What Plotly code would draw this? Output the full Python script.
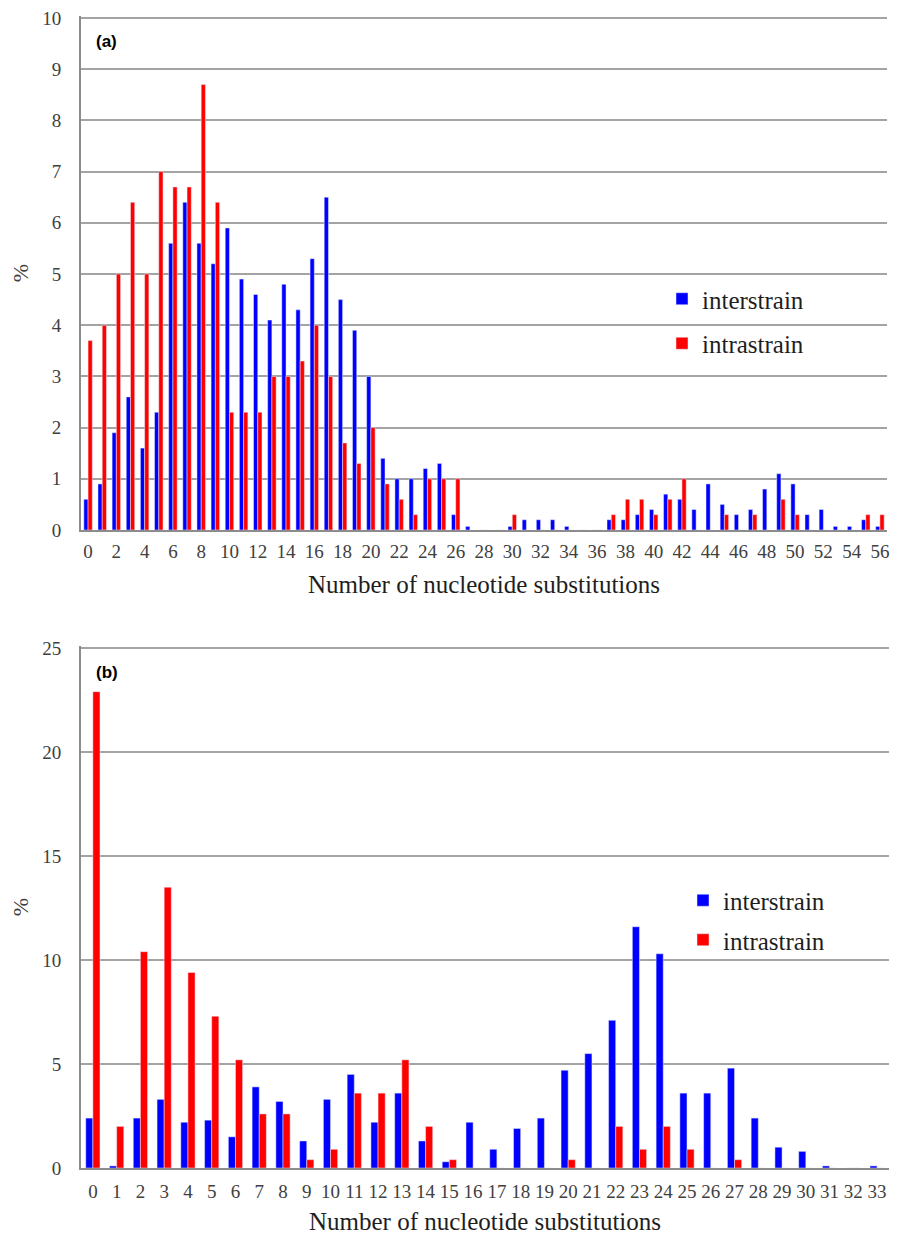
import plotly.graph_objects as go

# Panel (a)
a_x = list(range(0, 57))
a_inter = [0.6, 0.9, 1.9, 2.6, 1.6, 2.3, 5.6, 6.4, 5.6, 5.2,
           5.9, 4.9, 4.6, 4.1, 4.8, 4.3, 5.3, 6.5, 4.5, 3.9,
           3.0, 1.4, 1.0, 1.0, 1.2, 1.3, 0.3, 0.07, 0, 0,
           0.07, 0.2, 0.2, 0.2, 0.07, 0, 0, 0.2, 0.2, 0.3,
           0.4, 0.7, 0.6, 0.4, 0.9, 0.5, 0.3, 0.4, 0.8, 1.1,
           0.9, 0.3, 0.4, 0.07, 0.07, 0.2, 0.07]
a_intra = [3.7, 4.0, 5.0, 6.4, 5.0, 7.0, 6.7, 6.7, 8.7, 6.4,
           2.3, 2.3, 2.3, 3.0, 3.0, 3.3, 4.0, 3.0, 1.7, 1.3,
           2.0, 0.9, 0.6, 0.3, 1.0, 1.0, 1.0, 0, 0, 0,
           0.3, 0, 0, 0, 0, 0, 0, 0.3, 0.6, 0.6,
           0.3, 0.6, 1.0, 0, 0, 0.3, 0, 0.3, 0, 0.6,
           0.3, 0, 0, 0, 0, 0.3, 0.3]

# Panel (b)
b_x = list(range(0, 34))
b_inter = [2.4, 0.1, 2.4, 3.3, 2.2, 2.3, 1.5, 3.9, 3.2, 1.3,
           3.3, 4.5, 2.2, 3.6, 1.3, 0.3, 2.2, 0.9, 1.9, 2.4,
           4.7, 5.5, 7.1, 11.6, 10.3, 3.6, 3.6, 4.8, 2.4, 1.0,
           0.8, 0.1, 0, 0.1]
b_intra = [22.9, 2.0, 10.4, 13.5, 9.4, 7.3, 5.2, 2.6, 2.6, 0.4,
           0.9, 3.6, 3.6, 5.2, 2.0, 0.4, 0, 0, 0, 0,
           0.4, 0, 2.0, 0.9, 2.0, 0.9, 0, 0.4, 0, 0,
           0, 0, 0, 0]

BLUE = "#0000ff"
RED = "#ff0000"
SERIF = "Liberation Serif, Times New Roman, serif"
TICKCOL = "#404040"
TITLECOL = "#1e1e1e"
GRID = "#a3a3a3"

fig = go.Figure()
fig.add_trace(go.Bar(x=a_x, y=a_inter, name="interstrain", marker_color=BLUE,
                     xaxis="x", yaxis="y", legend="legend", legendgroup="a1"))
fig.add_trace(go.Bar(x=a_x, y=a_intra, name="intrastrain", marker_color=RED,
                     xaxis="x", yaxis="y", legend="legend", legendgroup="a2"))
fig.add_trace(go.Bar(x=b_x, y=b_inter, name="interstrain", marker_color=BLUE,
                     xaxis="x2", yaxis="y2", legend="legend2", legendgroup="b1"))
fig.add_trace(go.Bar(x=b_x, y=b_intra, name="intrastrain", marker_color=RED,
                     xaxis="x2", yaxis="y2", legend="legend2", legendgroup="b2"))

# page is 902x1238; the page body has an 8px margin, so the figure is 8px smaller
OFF = 8
W, H = 902 - OFF, 1238 - OFF
def px(x):
    return (x - OFF) / W
def py(y):
    return 1 - (y - OFF) / H

# a little headroom above the top gridline so that it is not clipped
A_TOP, B_TOP = 10.04, 25.1
a_top_px = 530 - A_TOP * (530 - 18) / 10
b_top_px = 1168 - B_TOP * (1168 - 648) / 25

axis_common = dict(showline=True, linecolor="#8c8c8c", linewidth=2,
                   ticks="outside", tickcolor="rgba(0,0,0,0)",
                   tickfont=dict(family=SERIF, size=19, color=TICKCOL),
                   zeroline=False, automargin=False, ticklabeloverflow="allow")

fig.update_layout(
    width=W, height=H,
    margin=dict(l=0, r=0, t=0, b=0, autoexpand=False),
    paper_bgcolor="white", plot_bgcolor="white",
    barmode="group", bargap=0.4, bargroupgap=0.0,
    xaxis=dict(domain=[px(81), px(887)], anchor="y", range=[-0.5, 56.5],
               tickmode="linear", tick0=0, dtick=2, showgrid=False, ticklen=3,
               title=dict(text="Number of nucleotide substitutions",
                          font=dict(family=SERIF, size=25, color=TITLECOL), standoff=15),
               **axis_common),
    yaxis=dict(domain=[py(530), py(a_top_px)], anchor="x", range=[0, A_TOP],
               tickmode="linear", tick0=0, dtick=1, showgrid=True, ticklen=14,
               gridcolor=GRID, gridwidth=2,
               title=dict(text="%", font=dict(family=SERIF, size=22, color=TICKCOL), standoff=8),
               **axis_common),
    xaxis2=dict(domain=[px(81), px(889)], anchor="y2", range=[-0.5, 33.5],
                tickmode="linear", tick0=0, dtick=1, showgrid=False, ticklen=5,
                title=dict(text="Number of nucleotide substitutions",
                           font=dict(family=SERIF, size=25, color=TITLECOL), standoff=12),
                **axis_common),
    yaxis2=dict(domain=[py(1168), py(b_top_px)], anchor="x2", range=[0, B_TOP],
                tickmode="linear", tick0=0, dtick=5, showgrid=True, ticklen=14,
                gridcolor=GRID, gridwidth=2,
                title=dict(text="%", font=dict(family=SERIF, size=22, color=TICKCOL), standoff=8),
                **axis_common),
    legend=dict(x=px(662), y=py(321), xanchor="left", yanchor="middle",
                bgcolor="rgba(0,0,0,0)", font=dict(family=SERIF, size=25, color=TITLECOL),
                tracegroupgap=9, itemwidth=30),
    legend2=dict(x=px(683), y=py(920), xanchor="left", yanchor="middle",
                 bgcolor="rgba(0,0,0,0)", font=dict(family=SERIF, size=25, color=TITLECOL),
                 tracegroupgap=4, itemwidth=30),
    showlegend=True,
    annotations=[
        dict(text="<b>(a)</b>", x=px(94), y=py(42), xref="paper", yref="paper",
             xanchor="left", yanchor="middle", showarrow=False,
             font=dict(family="Liberation Sans, Arial, sans-serif", size=17, color="black")),
        dict(text="<b>(b)</b>", x=px(94), y=py(672), xref="paper", yref="paper",
             xanchor="left", yanchor="middle", showarrow=False,
             font=dict(family="Liberation Sans, Arial, sans-serif", size=17, color="black")),
    ],
)

fig.write_html("out.html")
